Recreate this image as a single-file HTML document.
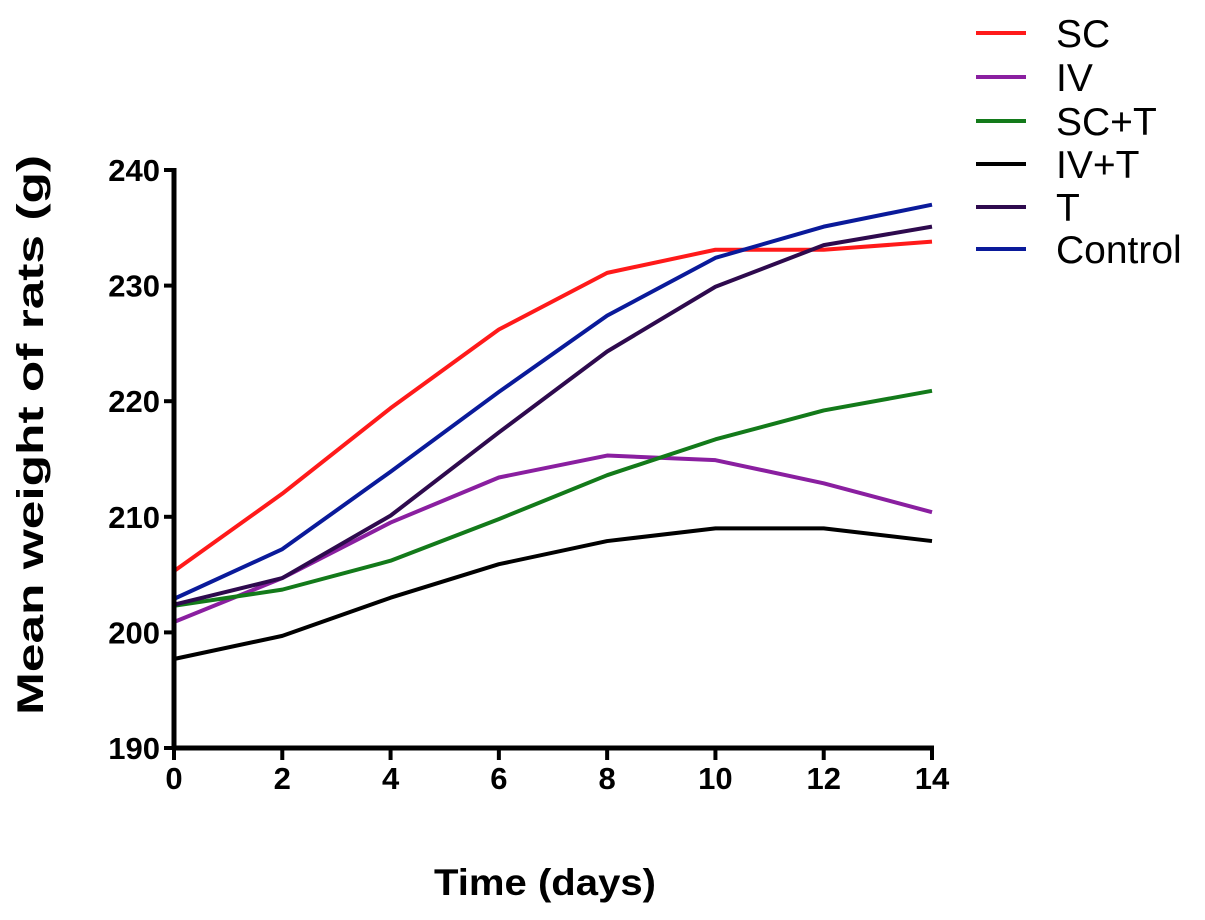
<!DOCTYPE html>
<html><head><meta charset="utf-8"><style>body{margin:0;background:#fff}svg{display:block}</style></head>
<body>
<svg id="chart" width="1205" height="920" xmlns="http://www.w3.org/2000/svg" font-family="Liberation Sans, sans-serif">
<g id="plot"></g>
</svg>
<script>
const days = [0,2,4,6,8,10,12,14];
const yTicks = [190,200,210,220,230,240];
const seriesNames = ["SC","IV","SC+T","IV+T","T","Control"];
const seriesColors = ["#ff1a1a","#8a1fa0","#137a1a","#000000","#2e0a4e","#0a1a9a"];
const scVals = [205.3,212.0,219.4,226.2,231.1,233.1,233.1,233.8];
const ivVals = [200.9,204.7,209.5,213.4,215.3,214.9,212.9,210.4];
const sctVals = [202.3,203.7,206.2,209.8,213.6,216.7,219.2,220.9];
const ivtVals = [197.7,199.7,203.0,205.9,207.9,209.0,209.0,207.9];
const tVals = [202.4,204.7,210.1,217.3,224.3,229.9,233.5,235.1];
const ctrlVals = [202.9,207.2,213.9,220.8,227.4,232.4,235.1,237.0];
const allSeries = [scVals,ivVals,sctVals,ivtVals,tVals,ctrlVals];

const NS="http://www.w3.org/2000/svg";
const g=document.getElementById('plot');
const X0=174,X1=932,Y0=748,Y1=170;
const xs=d=>X0+(d-0)/(14-0)*(X1-X0);
const ys=v=>Y0-(v-190)/(240-190)*(Y0-Y1);
function mk(t,a){const e=document.createElementNS(NS,t);for(const k in a)e.setAttribute(k,a[k]);g.appendChild(e);return e;}

// series
allSeries.forEach((vals,i)=>{
  const p=mk('polyline',{points:vals.map((v,j)=>xs(days[j])+','+ys(v)).join(' '),fill:'none',stroke:seriesColors[i],'stroke-width':4,'stroke-linejoin':'round'});
  
  
});
// axes
let ax=mk('line',{x1:X0,y1:Y1-2,x2:X0,y2:Y0+2,stroke:'#000','stroke-width':5});


ax=mk('line',{x1:X0-2,y1:Y0,x2:X1+2,y2:Y0,stroke:'#000','stroke-width':5});


yTicks.forEach(v=>{
  const y=ys(v);
  const t=mk('line',{x1:X0-10,y1:y,x2:X0,y2:y,stroke:'#000','stroke-width':4});
  
  
  const l=mk('text',{x:X0-14,y:y+11,'text-anchor':'end','font-size':31,'font-weight':'bold'});
  l.textContent=v;
  
  
});
days.forEach(d=>{
  const x=xs(d);
  const t=mk('line',{x1:x,y1:Y0,x2:x,y2:Y0+12,stroke:'#000','stroke-width':4});
  
  
  const l=mk('text',{x:x,y:Y0+41,'text-anchor':'middle','font-size':31,'font-weight':'bold'});
  l.textContent=d;
  
  
});
let tt=mk('text',{x:545,y:895,'text-anchor':'middle','font-size':37,'font-weight':'bold',textLength:222,lengthAdjust:'spacingAndGlyphs'});
tt.textContent='Time  (days)';


tt=mk('text',{x:0,y:0,'text-anchor':'middle','font-size':37,'font-weight':'bold',textLength:560,lengthAdjust:'spacingAndGlyphs',transform:'translate(43,435) rotate(-90)'});
tt.textContent='Mean weight of rats (g)';


// legend
const legY=[33,77,121,164,207,249];
seriesNames.forEach((n,i)=>{
  const l=mk('line',{x1:976,y1:legY[i],x2:1026,y2:legY[i],stroke:seriesColors[i],'stroke-width':4});
  
  
  const t=mk('text',{x:1056,y:legY[i]+14,'font-size':39});
  t.textContent=n;
  
  
});
</script>
</body></html>
